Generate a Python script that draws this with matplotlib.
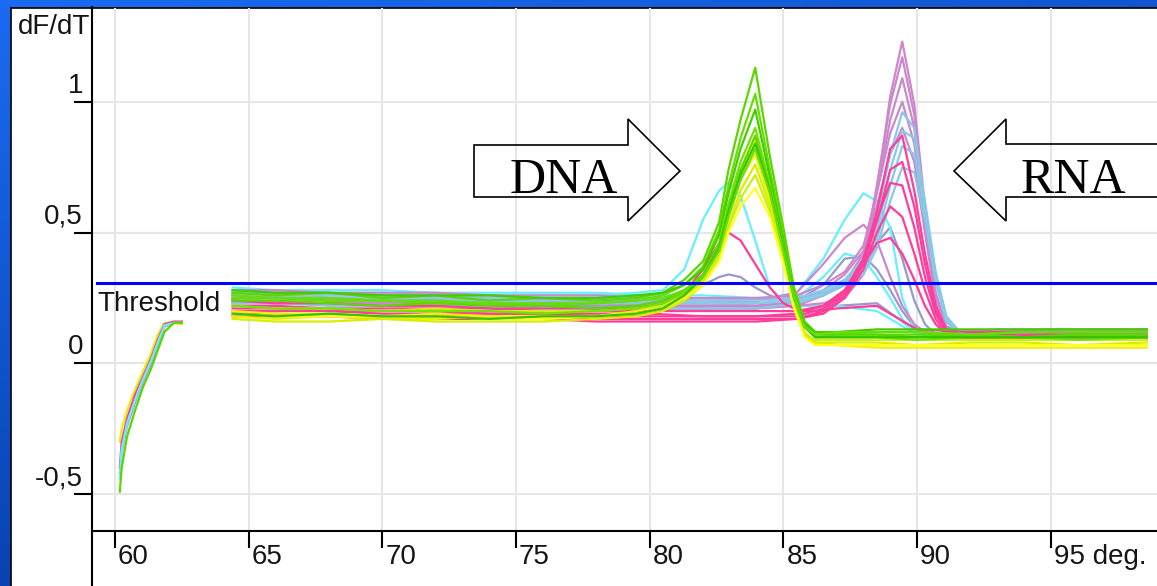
import numpy as np
import matplotlib
matplotlib.use("Agg")
import matplotlib.pyplot as plt
from matplotlib.patches import Polygon, Rectangle
from matplotlib import transforms

W, H, DPI = 1157, 586, 100

# ---------------- axis definitions ----------------
X_TICKS = [60, 65, 70, 75, 80, 85, 90, 95]
X_TICK_LABELS = ["60", "65", "70", "75", "80", "85", "90", "95 deg."]
Y_TICKS = [-0.5, 0, 0.5, 1]
Y_TICK_LABELS = ["-0,5", "0", "0,5", "1"]
THRESHOLD = 0.306

# ---------------- low-temperature start segment ----------------
T_START = [60.18, 60.25, 60.45, 60.75, 61.05, 61.35, 61.6, 61.85, 62.2, 62.5]
START_YELLOW = [-0.30, -0.25, -0.18, -0.10, -0.03, 0.04, 0.11, 0.155, 0.155, 0.15]
START_PINK = [-0.40, -0.30, -0.21, -0.12, -0.05, 0.02, 0.09, 0.15, 0.16, 0.16]
START_CYAN = [-0.44, -0.33, -0.23, -0.14, -0.06, 0.01, 0.08, 0.145, 0.155, 0.155]
START_ORCHID = [-0.42, -0.34, -0.24, -0.15, -0.07, 0.00, 0.07, 0.14, 0.155, 0.155]
START_GREEN = [-0.49, -0.40, -0.28, -0.18, -0.09, -0.02, 0.05, 0.12, 0.155, 0.155]

# ---------------- DNA samples (melt peak near 84 deg) ----------------
T_DNA = [64.4, 66, 68, 70, 72, 74, 76, 78, 79.5, 80.5,
         81.3, 82.0, 82.6, 82.95, 83.4, 83.95, 84.5, 85.0, 85.4, 85.8, 86.2,
         87, 88.5, 90, 92, 94, 96, 98.6]

DNA_GREEN = [
    [0.27, 0.26, 0.27, 0.25, 0.26, 0.24, 0.25, 0.24, 0.25, 0.27,
     0.32, 0.39, 0.54, 0.74, 0.93, 1.13, 0.79, 0.52, 0.29, 0.16, 0.12,
     0.11, 0.11, 0.10, 0.11, 0.10, 0.11, 0.10],
    [0.25, 0.25, 0.24, 0.24, 0.23, 0.23, 0.22, 0.23, 0.24, 0.26,
     0.30, 0.37, 0.51, 0.68, 0.86, 1.03, 0.74, 0.49, 0.28, 0.15, 0.11,
     0.11, 0.12, 0.12, 0.11, 0.12, 0.12, 0.12],
    [0.28, 0.27, 0.27, 0.26, 0.26, 0.26, 0.25, 0.25, 0.26, 0.27,
     0.30, 0.36, 0.49, 0.65, 0.82, 0.97, 0.71, 0.47, 0.27, 0.15, 0.12,
     0.12, 0.13, 0.13, 0.13, 0.13, 0.13, 0.13],
    [0.22, 0.21, 0.21, 0.20, 0.20, 0.20, 0.19, 0.20, 0.21, 0.23,
     0.27, 0.34, 0.46, 0.61, 0.77, 0.90, 0.68, 0.45, 0.26, 0.14, 0.10,
     0.10, 0.10, 0.09, 0.10, 0.10, 0.09, 0.10],
    [0.24, 0.24, 0.23, 0.22, 0.23, 0.22, 0.22, 0.21, 0.22, 0.24,
     0.28, 0.34, 0.45, 0.59, 0.74, 0.87, 0.66, 0.44, 0.25, 0.14, 0.10,
     0.11, 0.11, 0.11, 0.11, 0.10, 0.11, 0.11],
    [0.19, 0.18, 0.19, 0.18, 0.18, 0.17, 0.18, 0.18, 0.19, 0.21,
     0.26, 0.33, 0.44, 0.58, 0.72, 0.84, 0.66, 0.44, 0.25, 0.14, 0.10,
     0.10, 0.10, 0.10, 0.10, 0.10, 0.10, 0.10],
    [0.26, 0.25, 0.25, 0.24, 0.24, 0.23, 0.23, 0.23, 0.24, 0.25,
     0.28, 0.33, 0.43, 0.56, 0.70, 0.82, 0.65, 0.43, 0.25, 0.14, 0.11,
     0.12, 0.12, 0.12, 0.11, 0.12, 0.12, 0.12],
]

DNA_YELLOW = [
    [0.18, 0.17, 0.18, 0.17, 0.17, 0.18, 0.17, 0.18, 0.19, 0.21,
     0.25, 0.31, 0.42, 0.57, 0.72, 0.86, 0.64, 0.42, 0.24, 0.12, 0.08,
     0.07, 0.07, 0.07, 0.07, 0.07, 0.07, 0.07],
    [0.20, 0.19, 0.19, 0.18, 0.19, 0.18, 0.18, 0.18, 0.20, 0.22,
     0.26, 0.32, 0.43, 0.56, 0.70, 0.80, 0.62, 0.41, 0.23, 0.11, 0.08,
     0.07, 0.06, 0.06, 0.06, 0.06, 0.06, 0.06],
    [0.17, 0.16, 0.16, 0.17, 0.16, 0.16, 0.16, 0.17, 0.18, 0.20,
     0.24, 0.30, 0.40, 0.53, 0.66, 0.76, 0.60, 0.40, 0.22, 0.11, 0.08,
     0.08, 0.08, 0.07, 0.08, 0.08, 0.07, 0.08],
    [0.22, 0.21, 0.21, 0.20, 0.21, 0.20, 0.20, 0.20, 0.21, 0.22,
     0.26, 0.31, 0.41, 0.52, 0.63, 0.72, 0.58, 0.39, 0.22, 0.11, 0.09,
     0.09, 0.09, 0.09, 0.09, 0.09, 0.09, 0.09],
    [0.19, 0.18, 0.18, 0.18, 0.18, 0.17, 0.17, 0.18, 0.19, 0.21,
     0.25, 0.30, 0.39, 0.50, 0.60, 0.67, 0.56, 0.38, 0.21, 0.10, 0.07,
     0.07, 0.07, 0.07, 0.07, 0.07, 0.07, 0.07],
]

DNA_CYAN = [0.28, 0.28, 0.27, 0.27, 0.26, 0.26, 0.26, 0.26, 0.27, 0.28,
            0.36, 0.55, 0.66, 0.69, 0.64, 0.47, 0.29, 0.24, 0.22, 0.22, 0.22,
            0.22, 0.20, 0.11, 0.10, 0.10, 0.10, 0.10]
DNA_PINK = [0.24, 0.23, 0.23, 0.22, 0.22, 0.21, 0.21, 0.21, 0.21, 0.23,
            0.27, 0.36, 0.46, 0.50, 0.47, 0.38, 0.29, 0.23, 0.21, 0.20, 0.20,
            0.21, 0.22, 0.13, 0.12, 0.12, 0.12, 0.12]
DNA_LAVENDER = [0.25, 0.25, 0.24, 0.24, 0.24, 0.23, 0.23, 0.23, 0.24, 0.25,
                0.27, 0.30, 0.33, 0.34, 0.33, 0.29, 0.26, 0.24, 0.23, 0.22, 0.22,
                0.22, 0.23, 0.12, 0.10, 0.10, 0.10, 0.10]

# ---------------- RNA samples (melt peak near 89.5 deg) ----------------
T_RNA = [64.4, 66, 68, 70, 72, 74, 76, 78, 80, 82, 84,
         85.5, 86.5, 87.3, 88.0, 88.5, 89.0, 89.45, 89.9, 90.3, 90.7, 91.1, 91.6,
         93, 95, 97, 98.6]

RNA_ORCHID = [
    [0.26, 0.26, 0.25, 0.25, 0.24, 0.24, 0.24, 0.23, 0.23, 0.23, 0.22,
     0.22, 0.23, 0.25, 0.34, 0.66, 1.02, 1.23, 0.99, 0.60, 0.26, 0.14, 0.12,
     0.12, 0.13, 0.13, 0.13],
    [0.27, 0.27, 0.26, 0.26, 0.26, 0.25, 0.25, 0.25, 0.24, 0.24, 0.24,
     0.25, 0.27, 0.30, 0.40, 0.68, 0.99, 1.17, 0.95, 0.58, 0.27, 0.14, 0.12,
     0.12, 0.12, 0.12, 0.12],
    [0.24, 0.23, 0.23, 0.23, 0.22, 0.22, 0.22, 0.21, 0.21, 0.21, 0.21,
     0.22, 0.26, 0.31, 0.42, 0.66, 0.93, 1.09, 0.90, 0.56, 0.26, 0.14, 0.11,
     0.11, 0.12, 0.11, 0.11],
    [0.28, 0.28, 0.27, 0.27, 0.27, 0.26, 0.26, 0.26, 0.25, 0.25, 0.25,
     0.26, 0.30, 0.35, 0.45, 0.65, 0.88, 1.00, 0.84, 0.53, 0.25, 0.14, 0.12,
     0.13, 0.13, 0.13, 0.13],
    [0.25, 0.25, 0.24, 0.24, 0.24, 0.23, 0.23, 0.23, 0.22, 0.22, 0.22,
     0.24, 0.28, 0.34, 0.43, 0.60, 0.80, 0.90, 0.77, 0.50, 0.24, 0.13, 0.11,
     0.11, 0.11, 0.11, 0.11],
    [0.26, 0.26, 0.25, 0.25, 0.25, 0.24, 0.24, 0.24, 0.23, 0.23, 0.24,
     0.27, 0.38, 0.48, 0.53, 0.47, 0.33, 0.22, 0.15, 0.12, 0.11, 0.11, 0.11,
     0.12, 0.12, 0.12, 0.12],
]

RNA_LIGHTBLUE = [
    [0.27, 0.27, 0.26, 0.26, 0.26, 0.25, 0.25, 0.25, 0.25, 0.24, 0.24,
     0.25, 0.28, 0.32, 0.40, 0.56, 0.80, 0.96, 0.90, 0.60, 0.32, 0.16, 0.12,
     0.11, 0.11, 0.11, 0.11],
    [0.25, 0.25, 0.25, 0.24, 0.24, 0.24, 0.23, 0.23, 0.23, 0.23, 0.23,
     0.24, 0.27, 0.31, 0.38, 0.50, 0.74, 0.89, 0.86, 0.62, 0.35, 0.18, 0.12,
     0.11, 0.11, 0.11, 0.11],
    [0.23, 0.23, 0.22, 0.22, 0.22, 0.22, 0.21, 0.21, 0.21, 0.21, 0.21,
     0.23, 0.26, 0.30, 0.36, 0.47, 0.68, 0.83, 0.80, 0.58, 0.33, 0.17, 0.11,
     0.10, 0.10, 0.10, 0.10],
    [0.26, 0.26, 0.25, 0.25, 0.25, 0.24, 0.24, 0.24, 0.24, 0.23, 0.23,
     0.24, 0.27, 0.30, 0.34, 0.44, 0.62, 0.75, 0.73, 0.55, 0.31, 0.16, 0.11,
     0.10, 0.10, 0.10, 0.10],
]

RNA_HOTPINK = [
    [0.21, 0.21, 0.20, 0.20, 0.20, 0.19, 0.19, 0.19, 0.19, 0.18, 0.18,
     0.18, 0.21, 0.27, 0.40, 0.58, 0.82, 0.87, 0.66, 0.42, 0.22, 0.13, 0.11,
     0.11, 0.11, 0.11, 0.11],
    [0.19, 0.19, 0.18, 0.18, 0.18, 0.18, 0.17, 0.17, 0.17, 0.17, 0.17,
     0.17, 0.20, 0.26, 0.38, 0.54, 0.74, 0.77, 0.60, 0.38, 0.20, 0.12, 0.10,
     0.10, 0.10, 0.10, 0.10],
    [0.22, 0.22, 0.21, 0.21, 0.21, 0.21, 0.20, 0.20, 0.20, 0.20, 0.20,
     0.20, 0.22, 0.28, 0.40, 0.55, 0.69, 0.68, 0.52, 0.33, 0.19, 0.12, 0.10,
     0.10, 0.11, 0.10, 0.10],
    [0.18, 0.18, 0.18, 0.17, 0.17, 0.17, 0.17, 0.16, 0.16, 0.16, 0.16,
     0.17, 0.19, 0.25, 0.36, 0.50, 0.60, 0.56, 0.42, 0.28, 0.17, 0.11, 0.10,
     0.10, 0.10, 0.10, 0.10],
    [0.20, 0.20, 0.20, 0.19, 0.19, 0.19, 0.19, 0.18, 0.18, 0.18, 0.18,
     0.19, 0.22, 0.28, 0.38, 0.46, 0.48, 0.42, 0.32, 0.22, 0.15, 0.11, 0.10,
     0.10, 0.10, 0.10, 0.10],
]

RNA_CYAN = [
    [0.27, 0.27, 0.27, 0.26, 0.26, 0.26, 0.25, 0.25, 0.25, 0.25, 0.24,
     0.27, 0.40, 0.55, 0.65, 0.62, 0.52, 0.25, 0.13, 0.11, 0.11, 0.11, 0.11,
     0.11, 0.11, 0.11, 0.11],
    [0.29, 0.28, 0.28, 0.28, 0.27, 0.27, 0.27, 0.27, 0.26, 0.26, 0.25,
     0.25, 0.33, 0.42, 0.40, 0.33, 0.25, 0.17, 0.12, 0.11, 0.10, 0.10, 0.10,
     0.10, 0.10, 0.10, 0.10],
]

RNA_LAVENDER = [
    [0.24, 0.24, 0.23, 0.23, 0.23, 0.22, 0.22, 0.22, 0.22, 0.22, 0.22,
     0.23, 0.26, 0.30, 0.36, 0.46, 0.52, 0.40, 0.24, 0.15, 0.11, 0.10, 0.10,
     0.09, 0.09, 0.09, 0.09],
    [0.23, 0.23, 0.23, 0.22, 0.22, 0.22, 0.22, 0.21, 0.21, 0.21, 0.21,
     0.24, 0.30, 0.40, 0.41, 0.36, 0.28, 0.20, 0.14, 0.11, 0.10, 0.09, 0.09,
     0.09, 0.09, 0.09, 0.09],
]

# ---------------- colours ----------------
C_GREEN = ["#5ad600", "#66dd00", "#44cc00", "#72e200", "#5bd800", "#33c400", "#66dd11"]
C_YELLOW = ["#e8f200", "#f2f200", "#d8ee00", "#ccee11", "#ffff22"]
C_HOTPINK = "#ff3d9a"
C_ORCHID = "#cc88cc"
C_LIGHTBLUE = "#88c8e8"
C_CYAN = "#66f0ff"
C_LAVENDER = "#9999cc"
LW = 1.6

fig = plt.figure(figsize=(W / DPI, H / DPI), dpi=DPI)

# slide background: blue gradient with a white chart panel
bg = fig.add_axes([0, 0, 1, 1])
bg.set_xlim(0, W)
bg.set_ylim(H, 0)
bg.axis("off")
yy, xx = np.mgrid[0:1:80j, 0:1:120j]
shade = np.clip(0.65 * yy + 0.35 * xx, 0, 1)[..., None]
top = np.array([0.10, 0.42, 0.95])
bottom = np.array([0.0, 0.18, 0.56])
bg.imshow(top * (1 - shade) + bottom * shade, extent=[0, W, H, 0], aspect="auto",
          interpolation="bilinear")
bg.add_patch(Rectangle((10.5, 7.5), W, H, facecolor="white", edgecolor="none"))
bg.plot([10.5, 10.5], [7.5, H], color="black", lw=1.2)
bg.plot([10.5, W], [7.5, 7.5], color="black", lw=1.2)
bg.plot([92, 92], [530.5, H], color="black", lw=1.5, solid_capstyle="butt")

# plotting area
ax = fig.add_axes([92 / W, 1 - 530.5 / H, (W - 92) / W, (530.5 - 7.5) / H])
ax.patch.set_visible(False)
ax.set_xlim(59.14, 98.98)
ax.set_ylim(-0.6385, 1.360)
for side in ("top", "right"):
    ax.spines[side].set_visible(False)
for side in ("left", "bottom"):
    ax.spines[side].set_linewidth(1.5)
ax.set_xticks(X_TICKS)
ax.set_yticks(Y_TICKS)
ax.tick_params(axis="x", direction="out", length=12, width=1.5, labelbottom=False)
ax.tick_params(axis="y", direction="out", length=13, width=1.5, labelleft=False)
ax.grid(True, color="#e6e6e6", lw=1.5)
ax.set_axisbelow(True)

FONT = dict(family="Liberation Sans", fontsize=20, color="#151515")
xtrans = transforms.offset_copy(
    transforms.blended_transform_factory(ax.transData, ax.transAxes),
    fig=fig, x=3, y=-34, units="dots")
for t, lab in zip(X_TICKS, X_TICK_LABELS):
    ax.text(t, 0, lab, transform=xtrans, ha="left", va="baseline", **FONT)
ytrans = transforms.offset_copy(
    transforms.blended_transform_factory(ax.transAxes, ax.transData),
    fig=fig, x=-9, y=9, units="dots")
for v, lab in zip(Y_TICKS, Y_TICK_LABELS):
    ax.text(0, v, lab, transform=ytrans, ha="right", va="baseline", **FONT)

# curves
for ys, c in zip([START_YELLOW, START_PINK, START_ORCHID, START_CYAN, START_GREEN],
                 [C_YELLOW[0], C_HOTPINK, C_ORCHID, C_CYAN, C_GREEN[0]]):
    ax.plot(T_START, ys, color=c, lw=LW, zorder=3)

for ys in RNA_LAVENDER:
    ax.plot(T_RNA, ys, color=C_LAVENDER, lw=LW, zorder=3)
ax.plot(T_DNA, DNA_LAVENDER, color=C_LAVENDER, lw=LW, zorder=3)
for ys in RNA_CYAN:
    ax.plot(T_RNA, ys, color=C_CYAN, lw=LW, zorder=3)
ax.plot(T_DNA, DNA_CYAN, color=C_CYAN, lw=LW, zorder=3)
for ys in RNA_ORCHID:
    ax.plot(T_RNA, ys, color=C_ORCHID, lw=LW, zorder=3)
for ys in RNA_LIGHTBLUE:
    ax.plot(T_RNA, ys, color=C_LIGHTBLUE, lw=LW, zorder=3)
for ys in RNA_HOTPINK:
    ax.plot(T_RNA, ys, color=C_HOTPINK, lw=LW, zorder=3)
ax.plot(T_DNA, DNA_PINK, color=C_HOTPINK, lw=LW, zorder=3)
for ys, c in zip(DNA_YELLOW, C_YELLOW):
    ax.plot(T_DNA, ys, color=c, lw=LW, zorder=3)
for ys, c in zip(DNA_GREEN, C_GREEN):
    ax.plot(T_DNA, ys, color=c, lw=LW, zorder=3)

# threshold
ax.plot([59.33, 98.98], [THRESHOLD, THRESHOLD], color="#0000ff", lw=2.2, zorder=4,
        clip_on=False)

# overlay: labels and block arrows
ov = fig.add_axes([0, 0, 1, 1])
ov.set_xlim(0, W)
ov.set_ylim(H, 0)
ov.axis("off")
ov.patch.set_visible(False)
ov.text(90, 34, "dF/dT", ha="right", va="baseline", **FONT)
ov.text(97, 311, "Threshold", ha="left", va="baseline", **FONT)

dna_arrow = [(474, 145), (628, 145), (628, 119), (680, 171), (628, 221), (628, 197), (474, 197)]
rna_arrow = [(1160, 144), (1006, 144), (1006, 119), (954, 171), (1006, 221), (1006, 197), (1160, 197)]
for pts in (dna_arrow, rna_arrow):
    ov.add_patch(Polygon(pts, closed=True, fill=False, edgecolor="black", lw=1.2))
SERIF = dict(family="Liberation Serif", fontsize=36, color="black")
ov.text(563.5, 193, "DNA", ha="center", va="baseline", **SERIF)
ov.text(1073.5, 193, "RNA", ha="center", va="baseline", **SERIF)

fig.savefig("out.png", dpi=DPI)
